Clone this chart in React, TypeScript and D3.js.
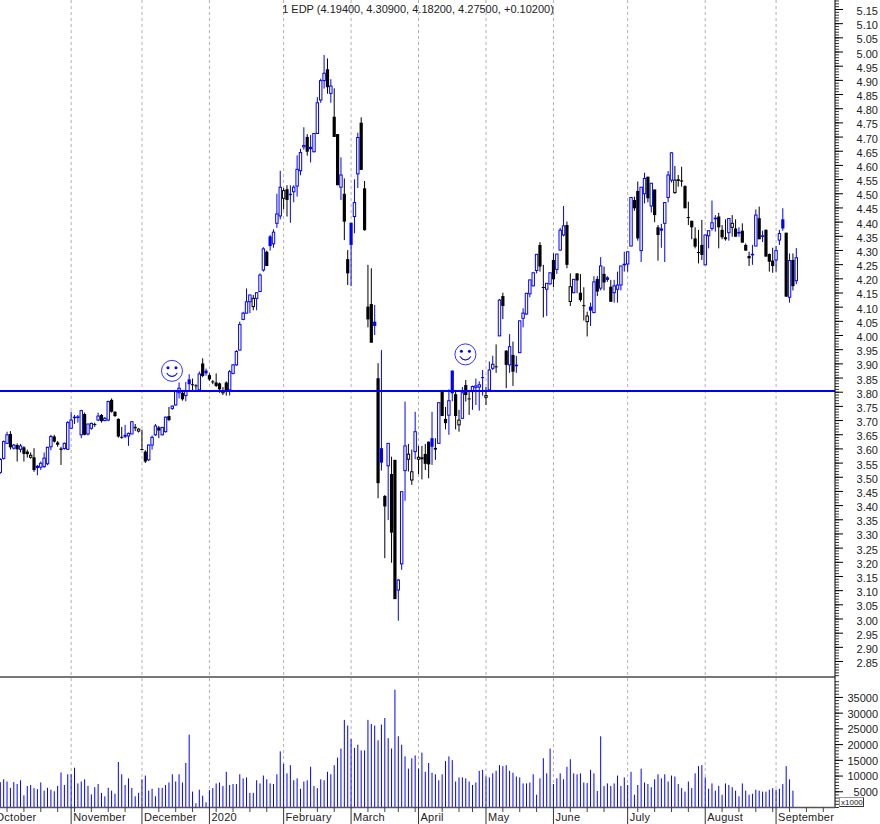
import React, {useEffect, useRef} from "react";
import * as d3 from 'd3';

const WIDTH = 880;
const HEIGHT = 824;
const AXIS_X = 835;
const PANEL_Y = 677;
const BASE_Y = 807;
const BLUE = "#0000ff";
const FONT = "'Liberation Sans', Arial, sans-serif";

const TITLE = "1 EDP (4.19400, 4.30900, 4.18200, 4.27500, +0.10200)";

// daily bars, ten to a row
const opens = [
    3.52,3.569,3.622,3.655,3.605,3.616,3.601,3.608,3.593,3.573,
    3.573,3.543,3.538,3.54,3.55,3.61,3.646,3.625,3.604,3.604,
    3.601,3.675,3.712,3.713,3.652,3.725,3.655,3.675,3.69,3.704,
    3.722,3.702,3.704,3.775,3.733,3.708,3.645,3.652,3.648,3.655,
    3.68,3.665,3.602,3.593,3.564,3.616,3.652,3.678,3.652,3.663,
    3.718,3.745,3.757,3.80,3.80,3.79,3.847,3.83,3.826,3.81,
    3.903,3.878,3.862,3.84,3.836,3.833,3.80,3.836,3.81,3.868,
    3.898,3.95,4.058,4.08,4.12,4.103,4.132,4.156,4.232,4.296,
    4.35,4.324,4.396,4.422,4.484,4.516,4.50,4.507,4.527,4.581,
    4.665,4.70,4.665,4.648,4.712,4.83,4.898,4.938,4.853,4.771,
    4.71,4.523,4.50,4.27,4.398,4.42,4.57,4.75,4.519,4.103,
    4.112,4.05,3.851,3.605,3.437,3.543,3.514,3.564,3.106,3.198,
    3.526,3.566,3.493,3.593,3.566,3.573,3.585,3.628,3.64,3.606,
    3.622,3.804,3.708,3.721,3.878,3.795,3.687,3.71,3.827,3.78,
    3.804,3.819,3.82,3.855,3.784,3.81,3.886,3.893,4.0,4.14,
    3.948,3.898,3.933,3.895,3.941,4.062,4.077,4.148,4.176,4.23,
    4.32,4.172,4.164,4.183,4.267,4.234,4.302,4.355,4.39,4.121,
    4.152,4.22,4.152,4.108,4.05,4.103,4.082,4.2,4.168,4.218,
    4.206,4.173,4.152,4.164,4.179,4.25,4.253,4.316,4.478,4.51,
    4.30,4.50,4.56,4.457,4.515,4.382,4.378,4.396,4.487,4.548,
    4.504,4.551,4.547,4.527,4.418,4.405,4.343,4.295,4.32,4.25,
    4.352,4.378,4.412,4.42,4.373,4.347,4.363,4.382,4.378,4.362,
    4.37,4.32,4.281,4.285,4.316,4.414,4.35,4.373,4.288,4.265,
    4.267,4.337,4.41,4.363,4.136,4.267,4.194,
];

const highs = [
    3.57,3.632,3.663,3.665,3.62,3.622,3.62,3.612,3.60,3.59,
    3.605,3.546,3.558,3.59,3.61,3.652,3.652,3.63,3.61,3.625,
    3.70,3.733,3.722,3.722,3.74,3.73,3.69,3.695,3.695,3.73,
    3.725,3.715,3.772,3.78,3.735,3.71,3.68,3.687,3.66,3.70,
    3.69,3.675,3.67,3.598,3.618,3.65,3.69,3.683,3.68,3.716,
    3.75,3.755,3.81,3.836,3.81,3.838,3.865,3.85,3.83,3.875,
    3.921,3.885,3.868,3.845,3.868,3.836,3.82,3.84,3.88,3.90,
    3.95,4.05,4.085,4.167,4.144,4.144,4.152,4.22,4.312,4.30,
    4.355,4.375,4.50,4.581,4.52,4.53,4.53,4.53,4.635,4.658,
    4.734,4.71,4.707,4.712,4.84,4.905,4.988,4.976,4.903,4.871,
    4.71,4.628,4.554,4.302,4.398,4.551,4.715,4.769,4.545,4.25,
    4.238,4.109,3.904,3.95,3.44,3.622,3.575,3.564,3.145,3.452,
    3.769,3.62,3.60,3.733,3.613,3.613,3.62,3.628,3.733,3.64,
    3.765,3.81,3.75,3.812,3.878,3.804,3.74,3.82,3.845,3.807,
    3.825,3.85,3.84,3.88,3.82,3.91,3.93,3.97,4.13,4.152,
    3.95,4.006,3.98,3.93,4.053,4.097,4.15,4.197,4.222,4.287,
    4.33,4.25,4.185,4.222,4.29,4.288,4.38,4.457,4.402,4.22,
    4.2,4.22,4.218,4.171,4.085,4.117,4.21,4.21,4.277,4.244,
    4.21,4.197,4.197,4.226,4.246,4.296,4.296,4.487,4.49,4.543,
    4.523,4.574,4.56,4.537,4.515,4.39,4.394,4.47,4.58,4.646,
    4.598,4.566,4.595,4.53,4.472,4.405,4.382,4.373,4.408,4.355,
    4.37,4.476,4.425,4.433,4.39,4.41,4.413,4.425,4.41,4.382,
    4.396,4.325,4.296,4.32,4.445,4.455,4.37,4.375,4.29,4.31,
    4.316,4.373,4.449,4.363,4.29,4.29,4.309,
];

const lows = [
    3.515,3.565,3.62,3.60,3.60,3.558,3.59,3.558,3.572,3.568,
    3.522,3.51,3.528,3.536,3.545,3.598,3.625,3.61,3.546,3.60,
    3.60,3.675,3.69,3.695,3.64,3.65,3.65,3.67,3.68,3.70,
    3.695,3.70,3.70,3.73,3.715,3.642,3.638,3.64,3.613,3.655,
    3.665,3.66,3.60,3.553,3.56,3.60,3.648,3.64,3.65,3.66,
    3.70,3.74,3.755,3.78,3.772,3.77,3.804,3.805,3.81,3.81,
    3.855,3.86,3.842,3.83,3.82,3.80,3.792,3.79,3.79,3.865,
    3.895,3.95,4.055,4.08,4.08,4.09,4.09,4.156,4.226,4.246,
    4.30,4.31,4.38,4.41,4.445,4.42,4.398,4.47,4.49,4.565,
    4.655,4.634,4.61,4.645,4.712,4.82,4.87,4.852,4.82,4.70,
    4.53,4.478,4.337,4.179,4.175,4.361,4.52,4.584,4.37,4.03,
    3.976,4.003,3.429,3.526,3.218,3.352,3.202,3.074,2.998,3.177,
    3.42,3.523,3.476,3.566,3.514,3.495,3.528,3.499,3.546,3.564,
    3.622,3.718,3.671,3.652,3.77,3.671,3.663,3.71,3.769,3.722,
    3.74,3.757,3.737,3.79,3.757,3.81,3.88,3.87,4.0,4.059,
    3.816,3.87,3.824,3.87,3.94,4.03,4.075,4.136,4.175,4.22,
    4.226,4.065,4.07,4.18,4.171,4.218,4.30,4.35,4.238,4.105,
    4.15,4.15,4.12,4.054,3.998,4.035,4.08,4.14,4.16,4.16,
    4.19,4.12,4.117,4.117,4.16,4.226,4.226,4.316,4.44,4.335,
    4.26,4.466,4.47,4.434,4.40,4.265,4.31,4.26,4.47,4.54,
    4.50,4.525,4.525,4.449,4.39,4.34,4.308,4.255,4.267,4.25,
    4.308,4.37,4.367,4.308,4.34,4.335,4.335,4.349,4.349,4.349,
    4.328,4.30,4.246,4.25,4.316,4.34,4.33,4.279,4.226,4.222,
    4.226,4.32,4.37,4.138,4.117,4.16,4.182,
];

const closes = [
    3.565,3.628,3.652,3.608,3.616,3.601,3.613,3.585,3.584,3.58,
    3.528,3.535,3.552,3.57,3.608,3.646,3.628,3.617,3.599,3.622,
    3.695,3.704,3.714,3.715,3.737,3.652,3.69,3.692,3.687,3.718,
    3.70,3.71,3.769,3.733,3.718,3.646,3.643,3.645,3.657,3.698,
    3.675,3.672,3.60,3.558,3.616,3.643,3.683,3.667,3.678,3.714,
    3.704,3.753,3.804,3.816,3.777,3.805,3.83,3.827,3.825,3.866,
    3.859,3.868,3.847,3.838,3.824,3.812,3.808,3.804,3.874,3.898,
    3.945,4.04,4.08,4.12,4.144,4.132,4.152,4.214,4.306,4.246,
    4.316,4.365,4.429,4.523,4.511,4.478,4.495,4.523,4.586,4.645,
    4.67,4.648,4.657,4.712,4.82,4.898,4.924,4.875,4.879,4.70,
    4.53,4.566,4.402,4.22,4.32,4.469,4.698,4.584,4.372,4.058,
    3.976,4.035,3.482,3.554,3.40,3.622,3.308,3.074,3.141,3.452,
    3.613,3.584,3.522,3.663,3.573,3.566,3.55,3.548,3.61,3.60,
    3.765,3.718,3.693,3.772,3.798,3.718,3.704,3.80,3.792,3.777,
    3.822,3.824,3.828,3.854,3.79,3.88,3.90,3.89,4.126,4.105,
    3.898,3.962,3.874,3.897,4.053,4.08,4.15,4.197,4.222,4.287,
    4.244,4.17,4.185,4.222,4.199,4.288,4.372,4.387,4.25,4.173,
    4.199,4.195,4.126,4.106,4.07,4.089,4.19,4.156,4.246,4.188,
    4.197,4.12,4.176,4.179,4.246,4.252,4.296,4.487,4.449,4.343,
    4.523,4.554,4.484,4.537,4.425,4.355,4.37,4.469,4.566,4.644,
    4.548,4.545,4.543,4.449,4.416,4.382,4.314,4.293,4.285,4.355,
    4.37,4.398,4.414,4.382,4.347,4.34,4.413,4.396,4.349,4.364,
    4.328,4.30,4.273,4.287,4.425,4.34,4.352,4.279,4.261,4.246,
    4.30,4.36,4.378,4.138,4.265,4.175,4.275,
];

// the last bar has no volume drawn yet
const volumes = [
    7900,8800,8100,6100,7900,7300,8500,3700,6700,7000,
    6000,5700,7800,5200,6100,5500,5000,6700,11000,7000,
    10400,10400,12500,7500,8100,8800,6700,4000,6300,7300,
    4500,3400,6100,5200,4200,14300,10400,7000,9100,6100,
    3400,4500,8800,10000,5200,5800,3400,6100,6100,7000,
    7800,10400,8100,10400,7800,14000,23000,4900,1200,5500,
    3600,1500,5400,6000,7500,7800,6700,11200,7000,7300,
    7300,10400,9100,9400,4500,4500,8500,7500,10000,8800,
    7500,7300,10400,17700,13700,10700,13300,8500,9100,5800,
    8100,8500,12800,6700,6000,8800,8500,11200,10400,13300,
    15700,18600,27700,25900,21600,18800,19800,18000,18000,27700,
    26400,25900,21200,26200,28300,21900,18600,37300,22500,19800,
    16100,12200,15500,16400,12200,17300,11200,14000,10900,10400,
    8500,10400,14600,16100,14900,8100,9400,9400,9100,8100,
    7000,7800,11500,11800,9700,9400,10700,11500,13300,13000,
    13300,11500,10900,9700,9400,7500,7500,7800,10400,3900,
    9100,15500,10700,18600,7300,9100,10700,8800,12800,15200,
    10700,10400,10700,7800,7600,11800,10700,5100,22500,6700,
    7500,6700,7500,10000,6700,9400,7000,11200,3900,7000,
    12200,7800,7300,6300,8800,10400,9100,10400,8100,10000,
    9700,7300,6000,4900,8100,6000,10700,13000,13300,9400,
    5800,7500,5200,6700,3900,7500,7000,6300,5200,3400,
    7500,5200,3900,4200,5500,5200,4900,4900,5500,6000,
    5500,5800,7300,13000,8800,5200,
];

const monthLabels = ["October", "November", "December", "2020", "February", "March", "April", "May", "June", "July", "August", "September"];
const monthBars = [-2, 21, 42, 62, 84, 104, 124, 144, 164, 186, 209, 230];
const weekBars = [
    2, 7, 12, 17, 22, 27, 32, 37, 47, 52, 57, 64, 69, 74, 79, 89, 94, 99, 109, 114, 118, 123,
    131, 136, 140, 149, 154, 159, 169, 174, 179, 189, 194, 199, 204, 214, 219, 224, 229, 234, 239, 244,
];

const LEVEL = 3.806;
const smileyBars = [50.9, 137.9];
const smileyPrices = [3.877, 3.935];

export default function App() {
    const svgRef = useRef<SVGSVGElement | null>(null);

    useEffect(() => {
        const svg = d3.select(svgRef.current);
        svg.selectAll('*').remove();

        const x = d3.scaleLinear().domain([0, 236]).range([0.3, 796.3]);
        const y = d3.scaleLinear().domain([5.15, 2.80]).range([9, PANEL_Y]);
        // the axis ticks sit a touch tighter than the scale the bars were read with
        const yTicks = d3.scaleLinear().domain([5.15, 2.80]).range([9, 675.2]);
        const v = d3.scaleLinear().domain([0, 40000]).range([BASE_Y, BASE_Y - 125.8]);

        // month gridlines run through both panels
        svg.append('g').selectAll('line')
            .data(monthBars.slice(1))
            .enter().append('line')
            .attr('x1', d => x(d)).attr('x2', d => x(d))
            .attr('y1', 0).attr('y2', BASE_Y)
            .attr('stroke', '#b0b0b0')
            .attr('stroke-dasharray', '3,3');

        svg.append('line')
            .attr('x1', 0).attr('x2', AXIS_X)
            .attr('y1', PANEL_Y).attr('y2', PANEL_Y)
            .attr('stroke', '#777')
            .attr('stroke-width', 2);

        // candles
        const candles = svg.append('g');
        opens.forEach((o, i) => {
            const c = closes[i];
            const up = i === 0 || c >= closes[i - 1];
            const hollow = c >= o;
            const color = up ? BLUE : '#000';
            const top = y(Math.max(o, c));
            const bottom = y(Math.min(o, c));
            candles.append('line')
                .attr('x1', x(i)).attr('x2', x(i))
                .attr('y1', y(highs[i])).attr('y2', y(lows[i]))
                .attr('stroke', color);
            if (hollow) {
                candles.append('rect')
                    .attr('x', x(i) - 1.2).attr('width', 2.4)
                    .attr('y', top).attr('height', Math.max(bottom - top, 0.5))
                    .attr('fill', '#fff')
                    .attr('stroke', color);
            } else {
                candles.append('rect')
                    .attr('x', x(i) - 1.6).attr('width', 3.2)
                    .attr('y', top).attr('height', Math.max(bottom - top, 1))
                    .attr('fill', color);
            }
        });

        svg.append('line')
            .attr('x1', 0).attr('x2', AXIS_X)
            .attr('y1', y(LEVEL)).attr('y2', y(LEVEL))
            .attr('stroke', BLUE)
            .attr('stroke-width', 2);

        // smileys
        const smile = d3.arc()({innerRadius: 5.6, outerRadius: 5.6, startAngle: Math.PI * 0.62, endAngle: Math.PI * 1.38}) as string;
        smileyBars.forEach((b, i) => {
            const g = svg.append('g')
                .attr('transform', `translate(${x(b)},${y(smileyPrices[i])})`);
            g.append('circle').attr('r', 10.5).attr('fill', 'none').attr('stroke', BLUE).attr('stroke-opacity', 0.8);
            g.append('circle').attr('cx', -4).attr('cy', -3).attr('r', 1.5).attr('fill', BLUE);
            g.append('circle').attr('cx', 4).attr('cy', -3).attr('r', 1.5).attr('fill', BLUE);
            g.append('path').attr('d', smile).attr('fill', 'none').attr('stroke', BLUE).attr('stroke-opacity', 0.8);
        });

        // volume
        svg.append('g').selectAll('line')
            .data(volumes)
            .enter().append('line')
            .attr('x1', (_, i) => x(i)).attr('x2', (_, i) => x(i))
            .attr('y1', d => v(d)).attr('y2', BASE_Y)
            .attr('stroke', BLUE);

        // right axis
        const priceMinor = d3.range(-3, 236).map(n => +(5.15 - n * 0.01).toFixed(2));
        const priceMajor = d3.range(0, 47).map(n => +(5.15 - n * 0.05).toFixed(2)).filter(p => p >= 2.85);
        const volMinor = d3.range(0, 41).map(n => n * 1000);
        const volMajor = d3.range(1, 8).map(n => n * 5000);

        const addAxis = (scale: d3.ScaleLinear<number, number>, minor: number[], major: number[], fmt: (d: number) => string, dy: string) => {
            const minorG = svg.append('g').attr('transform', `translate(${AXIS_X},0)`)
                .call(d3.axisRight(scale).tickValues(minor).tickSize(4).tickFormat(() => ''));
            minorG.select('.domain').remove();
            minorG.selectAll('line').attr('stroke', '#333');
            const majorG = svg.append('g').attr('transform', `translate(${AXIS_X},0)`)
                .call(d3.axisRight(scale).tickValues(major).tickSize(8).tickFormat(d => fmt(+d)));
            majorG.select('.domain').remove();
            majorG.selectAll('line').attr('stroke', '#000');
            majorG.selectAll('text')
                .attr('x', 43)
                .attr('dy', dy)
                .attr('text-anchor', 'end')
                .attr('fill', '#222')
                .style('font-family', FONT)
                .style('font-size', '11px');
        };
        addAxis(yTicks, priceMinor, priceMajor, d => d.toFixed(2), '0.5em');
        addAxis(v, volMinor, volMajor, d => String(d), '0.4em');

        svg.append('line')
            .attr('x1', AXIS_X).attr('x2', AXIS_X)
            .attr('y1', 0).attr('y2', BASE_Y)
            .attr('stroke', '#000');

        // time axis
        svg.append('line')
            .attr('x1', 0).attr('x2', AXIS_X)
            .attr('y1', BASE_Y + 0.5).attr('y2', BASE_Y + 0.5)
            .attr('stroke', '#555')
            .attr('stroke-width', 1.5);
        svg.append('g').selectAll('line')
            .data(weekBars)
            .enter().append('line')
            .attr('x1', d => x(d)).attr('x2', d => x(d))
            .attr('y1', BASE_Y).attr('y2', BASE_Y + 5)
            .attr('stroke', '#444');
        svg.append('g').selectAll('line')
            .data(monthBars)
            .enter().append('line')
            .attr('x1', d => x(d)).attr('x2', d => x(d))
            .attr('y1', BASE_Y).attr('y2', HEIGHT)
            .attr('stroke', '#333');
        svg.append('g').selectAll('text')
            .data(monthLabels)
            .enter().append('text')
            .attr('x', (_, i) => x(monthBars[i]) + 2)
            .attr('y', 821)
            .attr('fill', '#222')
            .style('font-family', FONT)
            .style('font-size', '11px')
            .style('letter-spacing', '0.25px')
            .text(d => d);

        // volume multiplier box
        svg.append('rect')
            .attr('x', 839.5).attr('y', 797.5).attr('width', 24).attr('height', 9)
            .attr('fill', '#fff').attr('stroke', '#999');
        svg.append('path')
            .attr('d', 'M863.5,797.5V806.5H839.5')
            .attr('fill', 'none').attr('stroke', '#333');
        svg.append('text')
            .attr('x', 841).attr('y', 805)
            .attr('fill', '#222')
            .style('font-family', FONT)
            .style('font-size', '8px')
            .text('x1000');

        svg.append('text')
            .attr('x', 418).attr('y', 13)
            .attr('text-anchor', 'middle')
            .attr('fill', '#222')
            .style('font-family', FONT)
            .style('font-size', '11px')
            .text(TITLE);
    }, []);

    return (
        <svg ref={svgRef} width={WIDTH} height={HEIGHT}
             style={{position: 'absolute', left: 0, top: 0, background: '#fff'}}/>
    );
}
